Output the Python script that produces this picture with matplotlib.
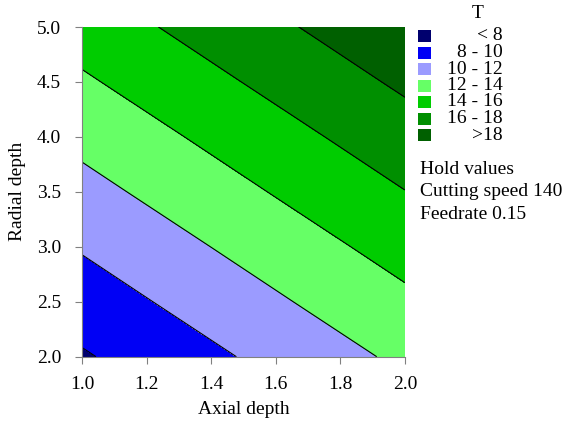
import numpy as np
import matplotlib.pyplot as plt
from matplotlib.patches import Rectangle

plt.rcParams['font.family'] = ['Liberation Serif', 'DejaVu Serif']

# grid
axial = [1.0, 1.25, 1.5, 1.75, 2.0]
radial = [2.0, 2.5, 3.0, 3.5, 4.0, 4.5, 5.0]
T = [
    [7.80, 8.95, 10.10, 11.25, 12.40],
    [8.99, 10.14, 11.29, 12.44, 13.59],
    [10.17, 11.32, 12.47, 13.62, 14.77],
    [11.36, 12.51, 13.66, 14.81, 15.96],
    [12.54, 13.69, 14.84, 15.99, 17.14],
    [13.73, 14.88, 16.03, 17.18, 18.33],
    [14.91, 16.06, 17.21, 18.36, 19.51],
]
levels = [0, 8, 10, 12, 14, 16, 18, 30]
level_labels = ['< 8', '8 - 10', '10 - 12', '12 - 14', '14 - 16', '16 - 18', '>18']
colors = ['#00006e', '#0000f5', '#9b9bff', '#66ff66', '#00cc00', '#008f00', '#006000']
hold_text = ['Hold values', 'Cutting speed 140', 'Feedrate 0.15']

fs = 14
fig = plt.figure(figsize=(5.67, 4.24), dpi=100)
ax = fig.add_axes([0.1446, 0.1587, 0.5694, 0.7776])

X, Y = np.meshgrid(axial, radial)
ax.contourf(X, Y, T, levels=levels, colors=colors)
ax.contour(X, Y, T, levels=levels[1:-1], colors='black', linewidths=0.8)

ax.set_xlim(1.0, 2.0)
ax.set_ylim(2.0, 5.0)
ax.set_xticks([1.0, 1.2, 1.4, 1.6, 1.8, 2.0])
ax.set_yticks([2.0, 2.5, 3.0, 3.5, 4.0, 4.5, 5.0])
ax.xaxis.set_major_formatter(plt.FormatStrFormatter('%.1f'))
ax.yaxis.set_major_formatter(plt.FormatStrFormatter('%.1f'))
ax.tick_params(direction='out', length=5, color='gray', labelsize=fs)
ax.tick_params(axis='x', pad=9)
ax.tick_params(axis='y', pad=10)
for s in ['top', 'right']:
    ax.spines[s].set_visible(False)
for s in ['left', 'bottom']:
    ax.spines[s].set_color('gray')
ax.set_xlabel('Axial depth', fontsize=fs, labelpad=6)
ax.set_ylabel('Radial depth', fontsize=fs, labelpad=8)

# legend drawn by hand
W, H = 567, 424
fig.text(478 / W, 1 - 13 / H, 'T', fontsize=fs, ha='center', va='center')
for i, (lab, c) in enumerate(zip(level_labels, colors)):
    yc = 36 + i * 16.5
    fig.patches.append(Rectangle((418 / W, 1 - (yc + 6) / H), 13 / W, 12 / H,
                                 transform=fig.transFigure, facecolor=c, edgecolor='none'))
    fig.text(503 / W, 1 - yc / H, lab, fontsize=fs, ha='right', va='center')
for i, t in enumerate(hold_text):
    fig.text(420 / W, 1 - (170 + i * 22) / H, t, fontsize=fs, ha='left', va='center')

fig.savefig('out.png', dpi=100)
